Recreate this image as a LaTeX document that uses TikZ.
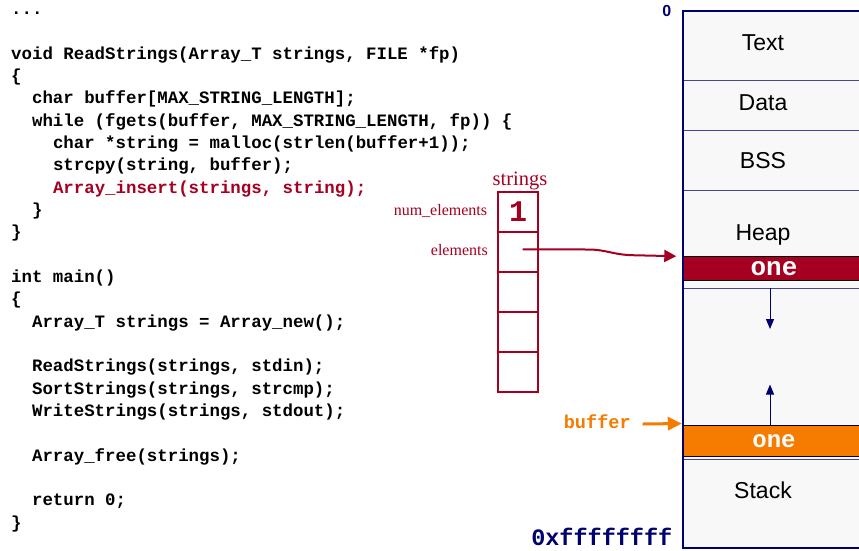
\documentclass[tikz,border=0pt]{standalone}
\usepackage{fontspec}
\setmainfont{Liberation Serif}
\setsansfont{Liberation Sans}
\setmonofont{Liberation Mono}
\usetikzlibrary{arrows.meta}

\definecolor{codered}{RGB}{165,0,33}
\definecolor{memnavy}{RGB}{0,0,110}
\definecolor{memline}{RGB}{70,70,150}
\definecolor{memfill}{RGB}{248,248,248}
\definecolor{bufcolor}{RGB}{245,124,0}

\begin{document}
\begin{tikzpicture}[x=1pt,y=-1pt,
  code/.style={anchor=base west, inner sep=0pt,
    font=\frenchspacing\ttfamily\bfseries\fontsize{17.4}{20}\selectfont},
  cell/.style={draw=codered, line width=2.3pt, minimum width=39.4pt,
    minimum height=40pt, inner sep=0pt},
  fieldlabel/.style={anchor=base east, inner sep=0pt, text=codered,
    font=\fontsize{16}{18}\selectfont},
  seglabel/.style={anchor=base, inner sep=0pt,
    font=\sffamily\fontsize{23}{26}\selectfont},
  band/.style={draw=black, line width=0.9pt, minimum width=180.5pt,
    minimum height=23.3pt, inner sep=0pt, text=white},
  growth/.style={draw=memnavy, line width=1pt,
    -{Triangle[length=10pt,width=8pt]}},
  sep/.style={draw=memline, line width=1pt}]

\useasboundingbox (0,0) rectangle (859,550);
\clip (0,0) rectangle (859,550);

% ---------------- source code ----------------
\node[code] (l0)  at (11,14.7)  {...};
\node[code] (l2)  at (11,59.3)  {void ReadStrings(Array\_T strings, FILE *fp)};
\node[code] (l3)  at (11,81.6)  {\{};
\node[code] (l4)  at (31.9,103.9) {char buffer[MAX\_STRING\_LENGTH];};
\node[code] (l5)  at (31.9,126.3) {while (fgets(buffer, MAX\_STRING\_LENGTH, fp)) \{};
\node[code] (l6)  at (52.8,148.6) {char *string = malloc(strlen(buffer+1));};
\node[code] (l7)  at (52.8,170.9) {strcpy(string, buffer);};
\node[code, text=codered] (l8) at (52.8,193.2) {Array\_insert(strings, string);};
\node[code] (l9)  at (31.9,215.5) {\}};
\node[code] (l10) at (11,237.9) {\}};
\node[code] (l12) at (11,282.5) {int main()};
\node[code] (l13) at (11,304.8) {\{};
\node[code] (l14) at (31.9,327.1) {Array\_T strings = Array\_new();};
\node[code] (l16) at (31.9,371.8) {ReadStrings(strings, stdin);};
\node[code] (l17) at (31.9,394.1) {SortStrings(strings, strcmp);};
\node[code] (l18) at (31.9,416.4) {WriteStrings(strings, stdout);};
\node[code] (l20) at (31.9,461.0) {Array\_free(strings);};
\node[code] (l22) at (31.9,505.7) {return 0;};
\node[code] (l23) at (11,528.0) {\}};

% ---------------- the strings array object ----------------
\node[cell] (c1) at (518,212) {};
\node[cell] (c2) at (518,252) {};
\node[cell] (c3) at (518,292) {};
\node[cell] (c4) at (518,332) {};
\node[cell] (c5) at (518,372) {};
\node[inner sep=0pt, text=codered,
  font=\ttfamily\bfseries\fontsize{30}{30}\selectfont] (count) at (518,212) {1};
\node[anchor=base, inner sep=0pt, text=codered,
  font=\fontsize{20.5}{22}\selectfont] (arrname) at (520,185.5) {strings};
\node[fieldlabel] (numlab) at (487.3,215.5) {num\_elements};
\node[fieldlabel] (ellab)  at (488,255) {elements};

% ---------------- memory layout ----------------
\fill[memfill] (683,11) rectangle (866,547.8);
\draw[sep] (683,80) -- (866,80);
\draw[sep] (683,130) -- (866,130);
\draw[sep] (683,190) -- (866,190);
\draw[sep] (683,288.3) -- (866,288.3);
\draw[sep] (683,459) -- (866,459);

\node[seglabel] (text)  at (763,50)    {Text};
\node[seglabel] (data)  at (763,110)   {Data};
\node[seglabel] (bss)   at (763,168.3) {BSS};
\node[seglabel] (heap)  at (763,240)   {Heap};
\node[seglabel] (stack) at (763,498.3) {Stack};

\node[band, fill=codered,
  font=\ttfamily\bfseries\fontsize{26}{26}\selectfont] (heapone) at (774,268.3) {one};
\node[band, fill=bufcolor, minimum height=31.7pt,
  font=\ttfamily\bfseries\fontsize{24}{24}\selectfont] (stackone) at (774,440.8) {one};

\coordinate (heapgrow) at (770,288.3);
\coordinate (heaptip)  at (770,329);
\coordinate (stackgrow) at (770,425);
\coordinate (stacktip)  at (770,384.5);
\draw[growth] (heapgrow) -- (heaptip);
\draw[growth] (stackgrow) -- (stacktip);

\draw[memnavy, line width=2.6pt] (683,11) rectangle (870,547.8);

\node[anchor=base, inner sep=0pt, text=memnavy,
  font=\sffamily\bfseries\fontsize{16}{16}\selectfont] (lowaddr) at (666.7,16.7) {0};
\node[anchor=base east, inner sep=0pt, text=memnavy,
  font=\ttfamily\bfseries\fontsize{23.5}{24}\selectfont] (highaddr) at (672.5,545.5) {0xffffffff};

% ---------------- pointers ----------------
\coordinate (ptrstart) at (522.7,249.3);
\coordinate (ptrend) at ([xshift=-7pt]heapone.north west);
\draw[codered, line width=2pt, -{Triangle[length=12pt,width=12pt]}]
  (ptrstart) -- (588,249.5) .. controls (606,249.5) and (612,254.5) .. (632,255.2) -- (ptrend);

\node[anchor=base east, inner sep=0pt, text=bufcolor,
  font=\ttfamily\bfseries\fontsize{18.6}{18}\selectfont] (buflab) at (631,428) {buffer};
\coordinate (bufstart) at (642.7,424);
\coordinate (bufend) at ([xshift=-1.5pt,yshift=1pt]stackone.north west);
\draw[bufcolor, line width=3pt, -{Triangle[length=14pt,width=13pt]}]
  (bufstart) -- (bufend);
\end{tikzpicture}
\end{document}
